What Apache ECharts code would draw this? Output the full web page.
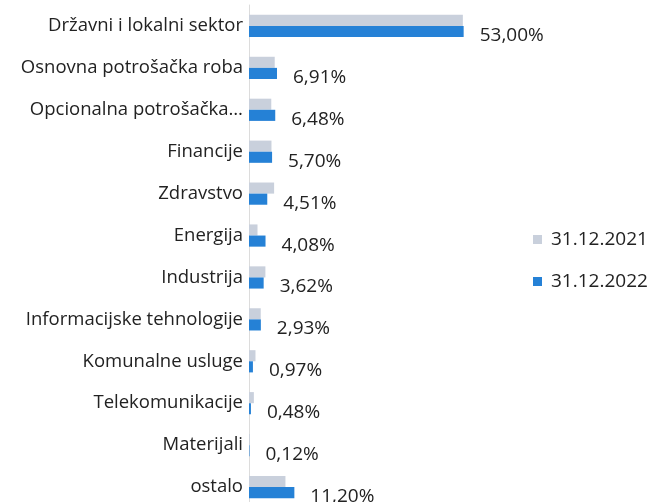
<!DOCTYPE html>
<html><head><meta charset="utf-8">
<script src="https://cdn.jsdelivr.net/npm/echarts@6/dist/echarts.min.js"></script>
<style>html,body{margin:0;padding:0;background:#fff;overflow:hidden}#c{width:662px;height:512px}</style>
</head><body><div id="c"></div>
<script>
const categories = ["Državni i lokalni sektor","Osnovna potrošačka roba","Opcionalna potrošačka…","Financije","Zdravstvo","Energija","Industrija","Informacijske tehnologije","Komunalne usluge","Telekomunikacije","Materijali","ostalo"];
const values2021 = [52.8,6.35,5.5,5.55,6.2,2.1,4.05,2.9,1.6,1.2,0.2,9.0];
const values2022 = [53.00,6.91,6.48,5.70,4.51,4.08,3.62,2.93,0.97,0.48,0.12,11.20];
const seriesNames = ["31.12.2021","31.12.2022"];
const FONT = "Open Sans";
const chart = echarts.init(document.getElementById('c'));
chart.setOption({
  animation:false,
  legend:{orient:'vertical',left:528,top:225,itemWidth:9,itemHeight:9,itemGap:23,icon:'rect',
    textStyle:{fontFamily:FONT,fontSize:19,color:'#222',padding:[0,0,0,4]},data:seriesNames},
  grid:{left:249,top:5,width:243,height:503,containLabel:false},
  xAxis:{type:'value',min:0,max:60,show:false},
  yAxis:{type:'category',inverse:true,data:categories,
    axisLine:{show:true,lineStyle:{color:'#dcdcdc',width:1}},axisTick:{show:false},
    axisLabel:{fontFamily:FONT,fontSize:18.5,color:'#222',margin:6,padding:[0,0,8,0]}},
  series:[
    {name:seriesNames[0],type:'bar',data:values2021,barGap:'0%',barCategoryGap:'47%',itemStyle:{color:'#c9d0dc'}},
    {name:seriesNames[1],type:'bar',data:values2022,barGap:'0%',barCategoryGap:'47%',itemStyle:{color:'#2581d6'},
      label:{show:true,position:'right',distance:16,fontFamily:FONT,fontSize:19,color:'#222',offset:[0,4],
        formatter:p=>p.value.toFixed(2).replace('.',',')+'%'}}
  ]
});
</script></body></html>
